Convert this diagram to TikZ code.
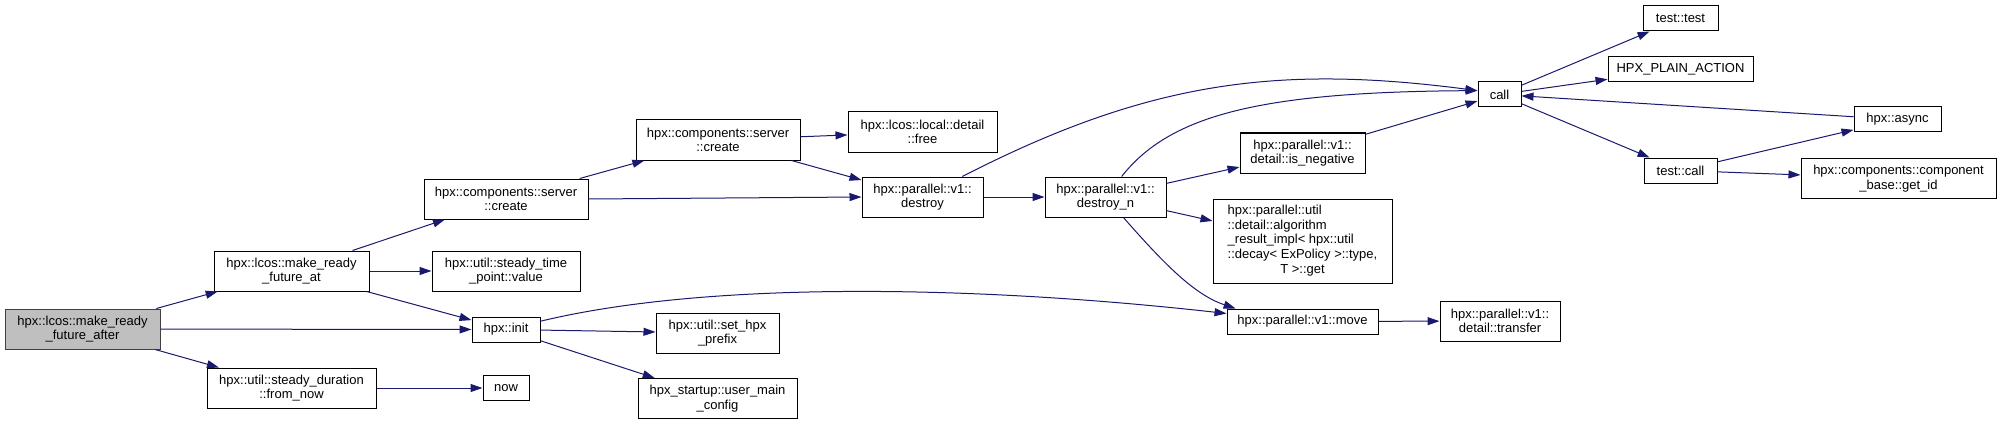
\documentclass[tikz,border=0pt]{standalone}
\usepackage{fontspec}
\setmainfont{Liberation Sans}
\usetikzlibrary{arrows.meta}
\definecolor{edgeblue}{HTML}{191970}
\definecolor{rootgray}{HTML}{BFBFBF}
\definecolor{rootline}{HTML}{404040}
\tikzset{
  fn/.style={
    rectangle,
    draw=black,
    line width=1pt,
    fill=white,
    align=center,
    inner sep=0pt,
    minimum height=40pt,
    font=\fontsize{13}{14.7}\selectfont
  },
  fn_one/.style={fn, minimum height=25pt},
  fn_root/.style={fn, fill=rootgray, draw=rootline},
  calls/.style={
    -{Triangle[length=12pt,width=8pt]},
    draw=edgeblue,
    line width=1pt
  }
}

\begin{document}
\begin{tikzpicture}[x=1pt, y=-1pt]
  \useasboundingbox (0,0) rectangle (2001,425);

  %====================================================================
  % Root and first level
  %====================================================================
  \node[fn_root, minimum width=155pt] (after) at (82.5,329)
    {hpx::lcos::make\_ready\\\_future\_after};
  \node[fn, minimum width=155pt] (at) at (291.5,271)
    {hpx::lcos::make\_ready\\\_future\_at};
  \node[fn, minimum width=169pt] (fromnow) at (291.5,388)
    {hpx::util::steady\_duration\\::from\_now};

  \node[fn, minimum width=164pt] (create) at (506,199)
    {hpx::components::server\\::create};
  \node[fn, minimum width=148pt] (timept) at (506,271)
    {hpx::util::steady\_time\\\_point::value};
  \node[fn_one, minimum width=68pt] (init) at (506,329.5) {hpx::init};
  \node[fn_one, minimum width=46pt] (now) at (506,388) {now};

  %====================================================================
  % Middle columns
  %====================================================================
  \node[fn, minimum width=164pt] (createsrv) at (718,140)
    {hpx::components::server\\::create};
  \node[fn, minimum width=123pt] (prefix) at (717.5,333)
    {hpx::util::set\_hpx\\\_prefix};
  \node[fn, minimum width=159pt] (usermain) at (717.5,398.5)
    {hpx\_startup::user\_main\\\_config};

  \node[fn, minimum width=149pt] (free) at (922.5,132)
    {hpx::lcos::local::detail\\::free};
  \node[fn, minimum width=121pt] (destroy) at (922.5,197)
    {hpx::parallel::v1::\\destroy};
  \node[fn, minimum width=121pt] (destroyn) at (1105.5,197)
    {hpx::parallel::v1::\\destroy\_n};

  \node[fn, minimum width=125pt] (isneg) at (1302.5,153)
    {hpx::parallel::v1::\\detail::is\_negative};
  \node[fn, minimum width=179pt, minimum height=84pt] (algo) at (1302.5,241)
    {\begin{tabular}{@{}l@{}}
     hpx::parallel::util\\
     ::detail::algorithm\\
     \_result\_impl< hpx::util\\
     ::decay< ExPolicy >::type,\\
     \multicolumn{1}{@{}c@{}}{T >::get}
     \end{tabular}};
  \node[fn_one, minimum width=151pt] (move) at (1302.5,321.5)
    {hpx::parallel::v1::move};
  \node[fn, minimum width=120pt] (transfer) at (1500,321)
    {hpx::parallel::v1::\\detail::transfer};

  %====================================================================
  % Right side
  %====================================================================
  \node[fn_one, minimum width=43pt] (call) at (1499.5,94.5) {call};
  \node[fn_one, minimum width=75pt] (testtest) at (1680.5,18.5) {test::test};
  \node[fn_one, minimum width=145pt] (plain) at (1680.5,69) {HPX\_PLAIN\_ACTION};
  \node[fn_one, minimum width=73pt] (testcall) at (1680.5,170.5) {test::call};
  \node[fn_one, minimum width=87pt] (async) at (1897.5,119.5) {hpx::async};
  \node[fn, minimum width=195pt] (getid) at (1898.5,178.5)
    {hpx::components::component\\\_base::get\_id};

  %====================================================================
  % Calls
  %====================================================================
  \draw[calls] (after) -- (at);
  \draw[calls] (after) -- (init);
  \draw[calls] (after) -- (fromnow);

  \draw[calls] (at) -- (create);
  \draw[calls] (at) -- (timept);
  \draw[calls] (at) -- (init);
  \draw[calls] (fromnow) -- (now);

  \draw[calls] (create) -- (createsrv);
  \draw[calls] (create.east) -- (destroy.west);
  \draw[calls] (createsrv) -- (free);
  \draw[calls] (createsrv) -- (destroy);

  \draw[calls] (init) .. controls (720,278) and (1000,288) .. (move.174);
  \draw[calls] (init) -- (prefix);
  \draw[calls] (init) -- (usermain);

  \draw[calls] (destroy) -- (destroyn);
  \draw[calls] (destroy) .. controls (1150,80) and (1280,65) .. (call.170);

  \draw[calls] (destroyn) .. controls (1170,115) and (1260,92) .. (call.170);
  \draw[calls] (destroyn) -- (isneg);
  \draw[calls] (destroyn) -- (algo);
  \draw[calls] (destroyn) .. controls (1165,265) and (1195,295) .. (move.169);

  \draw[calls] (isneg) -- (call);
  \draw[calls] (move) -- (transfer);

  \draw[calls] (call) -- (testtest);
  \draw[calls] (call) -- (plain);
  \draw[calls] (call) -- (testcall);
  \draw[calls] (async) -- (call);
  \draw[calls] (testcall) -- (async);
  \draw[calls] (testcall) -- (getid);

\end{tikzpicture}
\end{document}
